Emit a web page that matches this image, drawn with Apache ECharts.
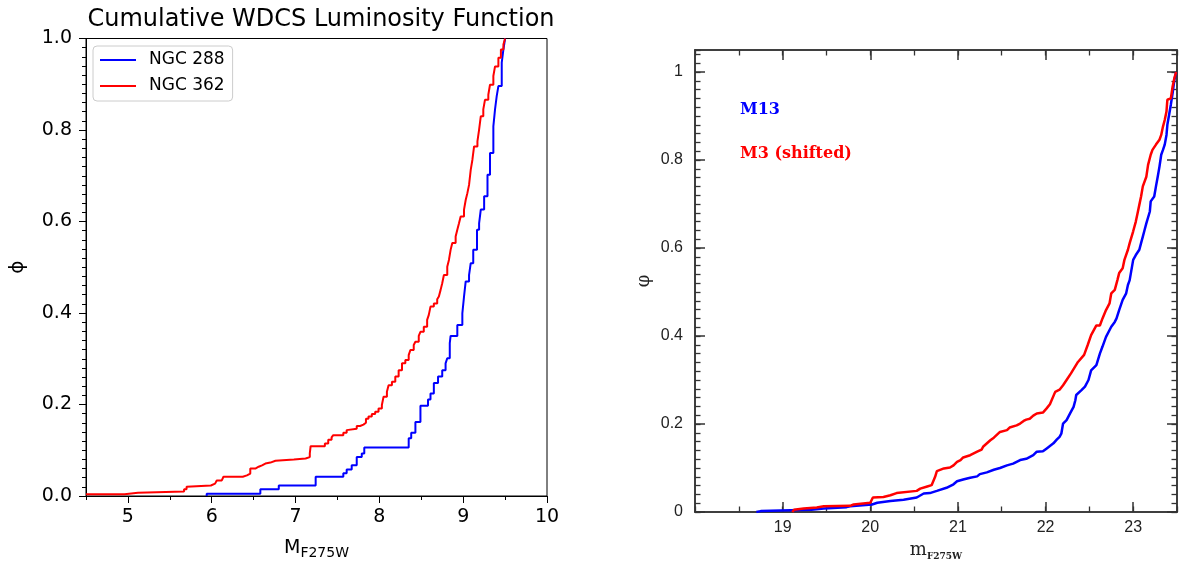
<!DOCTYPE html>
<html>
<head>
<meta charset="utf-8">
<script src="https://cdn.jsdelivr.net/npm/echarts@6/dist/echarts.min.js"></script>
<style>
html,body{margin:0;padding:0;background:#fff;}
#chart{width:1184px;height:563px;}
</style>
</head>
<body>
<div id="chart"></div>
<script>
// ---------- DATA ----------
const titleText = 'Cumulative WDCS Luminosity Function';
const leftSeriesNames = ['NGC 288', 'NGC 362'];
const rightSeriesNames = ['M13', 'M3 (shifted)'];
const leftXMajorTicks = [5, 6, 7, 8, 9, 10];
const rightXMajorTicks = [19, 20, 21, 22, 23];
const rightYMajorTicks = [0, 0.2, 0.4, 0.6, 0.8, 1];

// NGC 288 cumulative (magnitude, phi)
const ngc288 = [
  [5.94,0.0],[5.94,0.005],[6.58,0.015],[6.80,0.023],[7.24,0.042],[7.57,0.050],[7.61,0.058],
  [7.67,0.067],[7.73,0.085],[7.79,0.093],[7.82,0.106],[8.35,0.126],[8.38,0.138],[8.43,0.162],
  [8.49,0.197],[8.58,0.211],[8.61,0.224],[8.65,0.247],[8.70,0.261],[8.75,0.275],[8.79,0.290],
  [8.81,0.301],[8.84,0.334],[8.85,0.350],[8.93,0.374],[8.99,0.399],[9.01,0.436],[9.03,0.469],
  [9.07,0.483],[9.09,0.509],[9.12,0.538],[9.165,0.582],[9.19,0.596],[9.21,0.626],[9.25,0.655],
  [9.29,0.702],[9.32,0.750],[9.36,0.808],[9.38,0.845],[9.40,0.874],[9.42,0.896],[9.46,0.947],
  [9.48,0.976],[9.50,1.0]
];
// NGC 362 cumulative (magnitude, phi)
const ngc362 = [
  [4.50,0.004],[4.96,0.007],[5.12,0.010],[5.67,0.015],[5.70,0.020],[5.72,0.023],[5.99,0.027],
  [6.04,0.029],[6.06,0.034],[6.12,0.038],[6.14,0.042],[6.37,0.045],[6.42,0.049],[6.46,0.060],
  [6.52,0.064],[6.56,0.067],[6.60,0.071],[6.64,0.073],[6.70,0.077],[6.76,0.080],[6.98,0.082],
  [7.12,0.085],[7.17,0.093],[7.18,0.109],[7.35,0.115],[7.39,0.123],[7.43,0.128],[7.45,0.133],
  [7.57,0.138],[7.61,0.144],[7.63,0.147],[7.73,0.153],[7.77,0.156],[7.81,0.160],[7.84,0.169],
  [7.87,0.174],[7.91,0.179],[7.95,0.184],[7.99,0.191],[8.03,0.199],[8.05,0.217],[8.09,0.228],
  [8.11,0.242],[8.15,0.250],[8.19,0.261],[8.23,0.275],[8.27,0.290],[8.31,0.297],[8.35,0.308],
  [8.37,0.319],[8.41,0.330],[8.43,0.337],[8.47,0.350],[8.49,0.359],[8.53,0.370],[8.57,0.385],
  [8.59,0.396],[8.61,0.414],[8.65,0.421],[8.69,0.430],[8.71,0.436],[8.73,0.450],[8.75,0.465],
  [8.77,0.483],[8.81,0.501],[8.83,0.516],[8.85,0.538],[8.87,0.553],[8.91,0.567],[8.93,0.582],
  [8.95,0.596],[8.97,0.611],[9.01,0.626],[9.03,0.647],[9.05,0.662],[9.07,0.680],[9.09,0.713],
  [9.11,0.735],[9.13,0.764],[9.17,0.775],[9.19,0.801],[9.21,0.830],[9.24,0.845],[9.26,0.866],
  [9.30,0.877],[9.32,0.899],[9.36,0.918],[9.38,0.939],[9.42,0.958],[9.45,0.976],[9.48,0.987],
  [9.50,1.0]
];
// M13 cumulative (m_F275W, phi)
const m13 = [
  [18.70,0.0],[18.75,0.002],[19.09,0.004],[19.33,0.005],[19.47,0.008],[19.73,0.011],[19.77,0.013],
  [20.02,0.017],[20.08,0.021],[20.23,0.025],[20.38,0.028],[20.53,0.033],[20.61,0.042],[20.68,0.043],
  [20.76,0.048],[20.87,0.055],[20.95,0.063],[20.99,0.070],[21.06,0.074],[21.14,0.078],[21.22,0.081],
  [21.25,0.086],[21.33,0.090],[21.41,0.096],[21.48,0.100],[21.56,0.106],[21.63,0.110],[21.71,0.118],
  [21.78,0.121],[21.86,0.129],[21.90,0.137],[21.97,0.138],[22.01,0.144],[22.05,0.150],[22.09,0.156],
  [22.13,0.165],[22.16,0.171],[22.18,0.178],[22.20,0.201],[22.24,0.209],[22.28,0.224],[22.32,0.239],
  [22.34,0.254],[22.35,0.266],[22.41,0.277],[22.45,0.285],[22.49,0.300],[22.52,0.322],[22.58,0.334],
  [22.62,0.360],[22.65,0.376],[22.69,0.398],[22.75,0.421],[22.79,0.432],[22.81,0.440],[22.84,0.459],
  [22.88,0.482],[22.92,0.497],[22.94,0.516],[22.96,0.527],[23.00,0.573],[23.03,0.584],[23.07,0.596],
  [23.09,0.611],[23.11,0.626],[23.13,0.641],[23.15,0.656],[23.19,0.683],[23.20,0.706],[23.24,0.717],
  [23.26,0.740],[23.28,0.762],[23.30,0.785],[23.32,0.812],[23.34,0.823],[23.36,0.835],[23.38,0.857],
  [23.39,0.880],[23.41,0.903],[23.43,0.926],[23.45,0.952],[23.47,0.982],[23.49,1.0]
];
// M3 (shifted) cumulative (m_F275W, phi)
const m3 = [
  [19.11,0.0],[19.13,0.005],[19.24,0.008],[19.39,0.010],[19.47,0.013],[19.77,0.014],[19.81,0.017],
  [20.00,0.021],[20.03,0.033],[20.15,0.034],[20.23,0.038],[20.30,0.043],[20.53,0.048],[20.57,0.053],
  [20.65,0.058],[20.70,0.061],[20.74,0.080],[20.76,0.093],[20.84,0.099],[20.91,0.101],[20.95,0.106],
  [20.99,0.114],[21.03,0.118],[21.06,0.124],[21.14,0.129],[21.22,0.137],[21.27,0.142],[21.29,0.149],
  [21.37,0.163],[21.41,0.169],[21.48,0.182],[21.56,0.186],[21.59,0.192],[21.67,0.197],[21.71,0.201],
  [21.75,0.207],[21.78,0.210],[21.82,0.212],[21.86,0.219],[21.90,0.224],[21.97,0.226],[22.01,0.235],
  [22.05,0.245],[22.11,0.273],[22.16,0.278],[22.20,0.288],[22.24,0.300],[22.29,0.315],[22.37,0.341],
  [22.44,0.357],[22.48,0.379],[22.52,0.402],[22.58,0.424],[22.62,0.424],[22.65,0.440],[22.69,0.459],
  [22.73,0.474],[22.75,0.497],[22.79,0.505],[22.82,0.527],[22.84,0.543],[22.88,0.554],[22.90,0.573],
  [22.94,0.596],[22.96,0.611],[23.00,0.638],[23.03,0.660],[23.05,0.679],[23.07,0.698],[23.09,0.717],
  [23.11,0.740],[23.15,0.762],[23.17,0.789],[23.20,0.812],[23.22,0.823],[23.26,0.835],[23.30,0.846],
  [23.32,0.857],[23.34,0.876],[23.36,0.891],[23.38,0.910],[23.39,0.937],[23.43,0.940],[23.45,0.967],
  [23.47,0.986],[23.49,1.0]
];

// ---------- CHART ----------
const LF = 'DejaVu Sans';
const RF = 'Liberation Sans';
const SF = 'DejaVu Serif';
const chart = echarts.init(document.getElementById('chart'), null, {renderer: 'canvas'});

const noSplit = {show: false};
function rightX(position, major) {
  return {
    type: 'value', gridIndex: 1, position: position, min: 18, max: 23.5,
    interval: major ? undefined : 0.5,
    splitLine: noSplit,
    axisLine: {show: true, onZero: false, lineStyle: {color: '#333', width: 1.5}},
    axisTick: major
      ? {show: true, inside: true, length: 10, customValues: rightXMajorTicks, lineStyle: {color: '#333', width: 1.5}}
      : {show: true, inside: true, length: 5.5, lineStyle: {color: '#333', width: 1.3}},
    axisLabel: (major && position === 'bottom')
      ? {show: true, customValues: rightXMajorTicks, margin: 8, fontFamily: RF, fontSize: 16, color: '#222'}
      : {show: false}
  };
}
function rightY(position, major) {
  return {
    type: 'value', gridIndex: 1, position: position, min: 0, max: 1.05,
    interval: major ? undefined : 0.02,
    splitLine: noSplit,
    axisLine: {show: true, onZero: false, lineStyle: {color: '#333', width: 1.5}},
    axisTick: major
      ? {show: true, inside: true, length: 10, customValues: rightYMajorTicks, lineStyle: {color: '#333', width: 1.5}}
      : {show: true, inside: true, length: 5.5, lineStyle: {color: '#333', width: 1.3}},
    axisLabel: (major && position === 'left')
      ? {show: true, customValues: rightYMajorTicks, margin: 12, fontFamily: RF, fontSize: 16, color: '#222',
         formatter: v => String(+(+v).toFixed(1))}
      : {show: false}
  };
}

const xMajorR = rightX('bottom', true);
xMajorR.name = '{m|m}{s|F275W}';
xMajorR.nameLocation = 'middle';
xMajorR.nameGap = 26;
xMajorR.nameTextStyle = {
  rich: {
    m: {fontFamily: SF, fontSize: 18, color: '#222', lineHeight: 22, verticalAlign: 'middle'},
    s: {fontFamily: SF, fontSize: 9, fontWeight: 'bold', color: '#222', lineHeight: 10, verticalAlign: 'bottom'}
  }
};
const yMajorR = rightY('left', true);
yMajorR.name = 'φ';
yMajorR.nameLocation = 'middle';
yMajorR.nameRotate = 90;
yMajorR.nameGap = 42;
yMajorR.nameTextStyle = {fontFamily: SF, fontSize: 18, color: '#222'};

const option = {
  animation: false,
  backgroundColor: '#ffffff',
  title: {
    text: titleText, left: 316, top: 3, textAlign: 'center',
    textStyle: {fontFamily: LF, fontSize: 24, fontWeight: 'normal', color: '#000'}
  },
  legend: {
    data: leftSeriesNames, orient: 'vertical', left: 93, top: 46,
    icon: 'rect', itemWidth: 36, itemHeight: 2, itemGap: 8,
    padding: [5, 8, 6, 7],
    backgroundColor: 'rgba(255,255,255,0.8)', borderColor: '#cccccc', borderWidth: 1, borderRadius: 4,
    textStyle: {fontFamily: LF, fontSize: 17, color: '#000', lineHeight: 18, padding: [0, 0, 0, 8]}
  },
  grid: [
    {left: 86, top: 38.5, width: 461, height: 457.5, show: true, borderColor: '#000', borderWidth: 1,
     backgroundColor: 'transparent', containLabel: false, outerBoundsMode: 'none'},
    {left: 695, top: 50, width: 482, height: 462, show: false, containLabel: false, outerBoundsMode: 'none'}
  ],
  xAxis: [
    {
      type: 'value', gridIndex: 0, position: 'bottom', min: 4.5, max: 10,
      splitLine: noSplit,
      axisLine: {show: true, onZero: false, lineStyle: {color: '#000', width: 1}},
      axisTick: {show: true, inside: false, length: 7, customValues: leftXMajorTicks, lineStyle: {color: '#000', width: 1}},
      axisLabel: {show: true, customValues: leftXMajorTicks, margin: 12, fontFamily: LF, fontSize: 19, color: '#000'},
      name: '{m|M}{s|F275W}', nameLocation: 'middle', nameGap: 40,
      nameTextStyle: {
        rich: {
          m: {fontFamily: LF, fontSize: 19, color: '#000', lineHeight: 24, verticalAlign: 'middle'},
          s: {fontFamily: LF, fontSize: 14, color: '#000', lineHeight: 14, verticalAlign: 'bottom'}
        }
      }
    },
    {
      type: 'value', gridIndex: 0, position: 'bottom', min: 4.5, max: 10, interval: 0.5,
      splitLine: noSplit,
      axisLine: {show: false, onZero: false},
      axisTick: {show: true, inside: false, length: 4, lineStyle: {color: '#000', width: 1}},
      axisLabel: {show: false}
    },
    xMajorR,
    rightX('bottom', false),
    rightX('top', true),
    rightX('top', false)
  ],
  yAxis: [
    {
      type: 'value', gridIndex: 0, position: 'left', min: 0, max: 1, interval: 0.2,
      splitLine: noSplit,
      axisLine: {show: true, onZero: false, lineStyle: {color: '#000', width: 1}},
      axisTick: {show: true, inside: false, length: 7, lineStyle: {color: '#000', width: 1}},
      minorTick: {show: true, splitNumber: 10, length: 4, lineStyle: {color: '#000', width: 1}},
      minorSplitLine: {show: false},
      axisLabel: {show: true, margin: 14, fontFamily: LF, fontSize: 19, color: '#000', formatter: v => (+v).toFixed(1)},
      name: 'ϕ', nameLocation: 'middle', nameRotate: 90, nameGap: 58,
      nameTextStyle: {fontFamily: LF, fontSize: 20, color: '#000'}
    },
    yMajorR,
    rightY('left', false),
    rightY('right', true),
    rightY('right', false)
  ],
  graphic: [
    {type: 'text', left: 740, top: 102, silent: true,
     style: {text: rightSeriesNames[0], fill: '#0000ff', fontFamily: SF, fontSize: 16, fontWeight: 'bold'}},
    {type: 'text', left: 740, top: 146, silent: true,
     style: {text: rightSeriesNames[1], fill: '#ff0000', fontFamily: SF, fontSize: 16, fontWeight: 'bold'}}
  ],
  series: [
    {name: leftSeriesNames[0], type: 'line', xAxisIndex: 0, yAxisIndex: 0, step: 'end', symbol: 'none',
     data: ngc288, lineStyle: {color: '#0000ff', width: 2}, itemStyle: {color: '#0000ff'}},
    {name: leftSeriesNames[1], type: 'line', xAxisIndex: 0, yAxisIndex: 0, step: 'end', symbol: 'none',
     data: ngc362, lineStyle: {color: '#ff0000', width: 2}, itemStyle: {color: '#ff0000'}},
    {name: rightSeriesNames[0], type: 'line', xAxisIndex: 2, yAxisIndex: 1, symbol: 'none',
     data: m13, lineStyle: {color: '#0000ff', width: 2.5}, itemStyle: {color: '#0000ff'}},
    {name: rightSeriesNames[1], type: 'line', xAxisIndex: 2, yAxisIndex: 1, symbol: 'none',
     data: m3, lineStyle: {color: '#ff0000', width: 2.5}, itemStyle: {color: '#ff0000'}}
  ]
};
chart.setOption(option);
</script>
</body>
</html>
